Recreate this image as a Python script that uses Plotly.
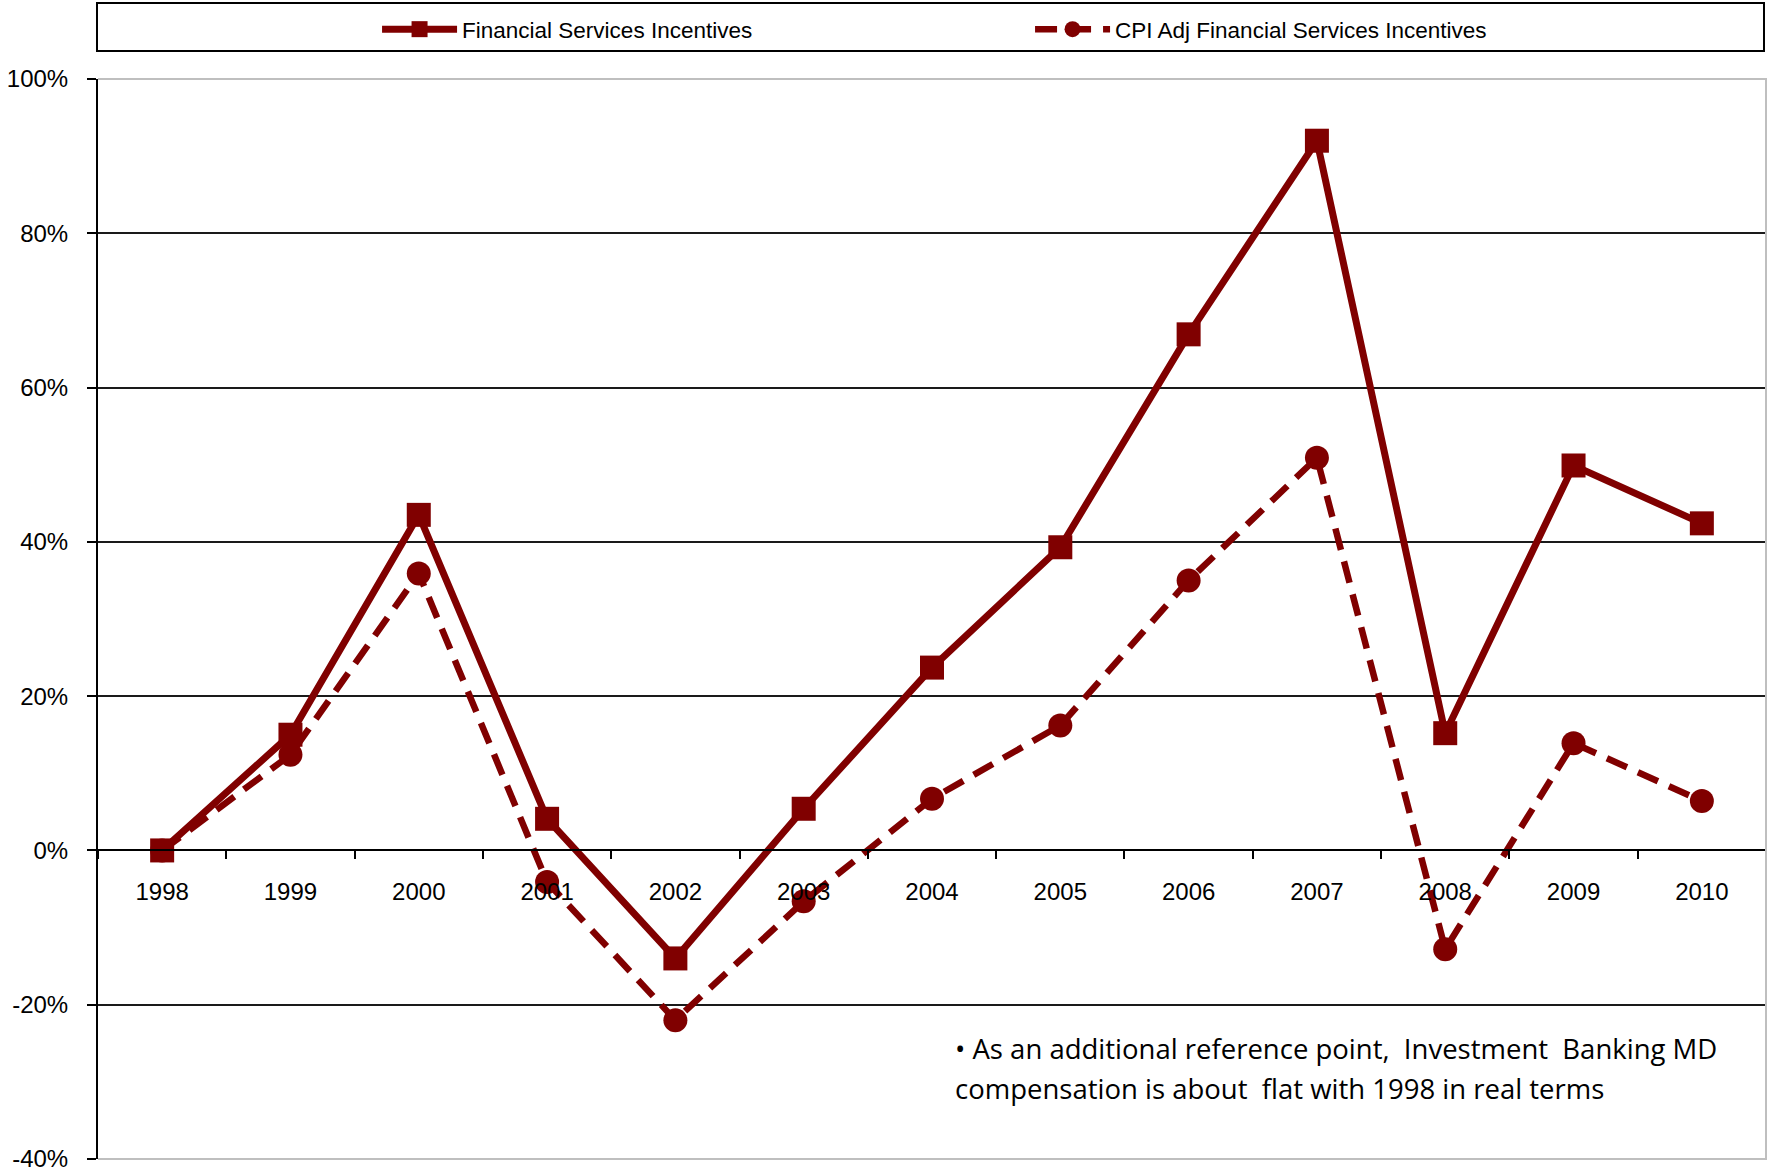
import plotly.graph_objects as go

years = ["1998", "1999", "2000", "2001", "2002", "2003", "2004",
         "2005", "2006", "2007", "2008", "2009", "2010"]
nominal = [0.0, 15.0, 43.5, 4.1, -14.0, 5.4, 23.7, 39.3, 66.9, 92.0, 15.2, 49.9, 42.4]
cpi_adj = [0.0, 12.4, 35.9, -4.1, -22.0, -6.6, 6.7, 16.2, 35.0, 50.9, -12.8, 13.9, 6.4]
y_ticks = [-40, -20, 0, 20, 40, 60, 80, 100]
y_tick_text = ["-40%", "-20%", "0%", "20%", "40%", "60%", "80%", "100%"]
note_lines = ["\u2022 As an additional reference point,  Investment  Banking MD",
              "compensation is about  flat with 1998 in real terms"]

maroon = "#800000"

fig = go.Figure()
fig.add_trace(go.Scatter(
    x=years, y=nominal, name="Financial Services Incentives",
    mode="lines+markers",
    line=dict(color=maroon, width=7),
    marker=dict(symbol="square", size=24, color=maroon),
))
fig.add_trace(go.Scatter(
    x=years, y=cpi_adj, name="CPI Adj Financial Services Incentives",
    mode="lines+markers",
    line=dict(color=maroon, width=6.5, dash="22px,12px"),
    marker=dict(symbol="circle", size=24, color=maroon),
))

tick_font = dict(family="Liberation Sans, Arial, sans-serif", size=24, color="black")

fig.update_xaxes(
    type="category", range=[-0.5, 12.5],
    anchor="free", position=40 / 140,
    showline=True, linecolor="black", linewidth=2,
    ticks="outside", tickson="boundaries", ticklen=8, tickcolor="black", tickwidth=1.5,
    ticklabelstandoff=20,
    showgrid=False, zeroline=False,
    tickfont=tick_font,
)
fig.update_yaxes(
    range=[-40, 100], tickmode="array", tickvals=y_ticks, ticktext=y_tick_text,
    showline=True, linecolor="black", linewidth=2,
    ticks="outside", ticklen=9, tickcolor="black", tickwidth=1.5,
    ticklabelstandoff=14,
    showgrid=True, gridcolor="#1a1a1a", gridwidth=1.5,
    zeroline=False,
    tickfont=tick_font,
)

# plot-area frame (top, right, bottom) in light grey
fig.add_shape(type="path", xref="paper", yref="paper",
              path="M 0,1 L 1,1 L 1,0 L 0,0",
              line=dict(color="#bfbfbf", width=2), layer="above")
# legend frame
fig.add_shape(type="rect", xref="paper", yref="paper",
              x0=-0.0006, x1=0.9988, y0=1.0259, y1=1.0704,
              line=dict(color="black", width=2))

note_font = dict(family="Open Sans, Lato, sans-serif", size=27.5, color="black")
for i, line in enumerate(note_lines):
    fig.add_annotation(
        xref="paper", yref="paper", x=0.5126, y=(1159 - (1048 + 40 * i)) / 1080,
        xanchor="left", yanchor="middle", text=line, showarrow=False,
        font=note_font, align="left",
    )

fig.update_layout(
    width=1767, height=1173,
    margin=dict(l=98, r=1, t=79, b=14),
    paper_bgcolor="white", plot_bgcolor="white",
    showlegend=True,
    legend=dict(
        orientation="h", x=0.1673, xanchor="left", y=1.0458, yanchor="middle",
        font=dict(family="Liberation Sans, Arial, sans-serif", size=22.5, color="black"),
        entrywidth=563, itemwidth=75, bgcolor="rgba(0,0,0,0)",
    ),
)

fig.write_html("out.html")
